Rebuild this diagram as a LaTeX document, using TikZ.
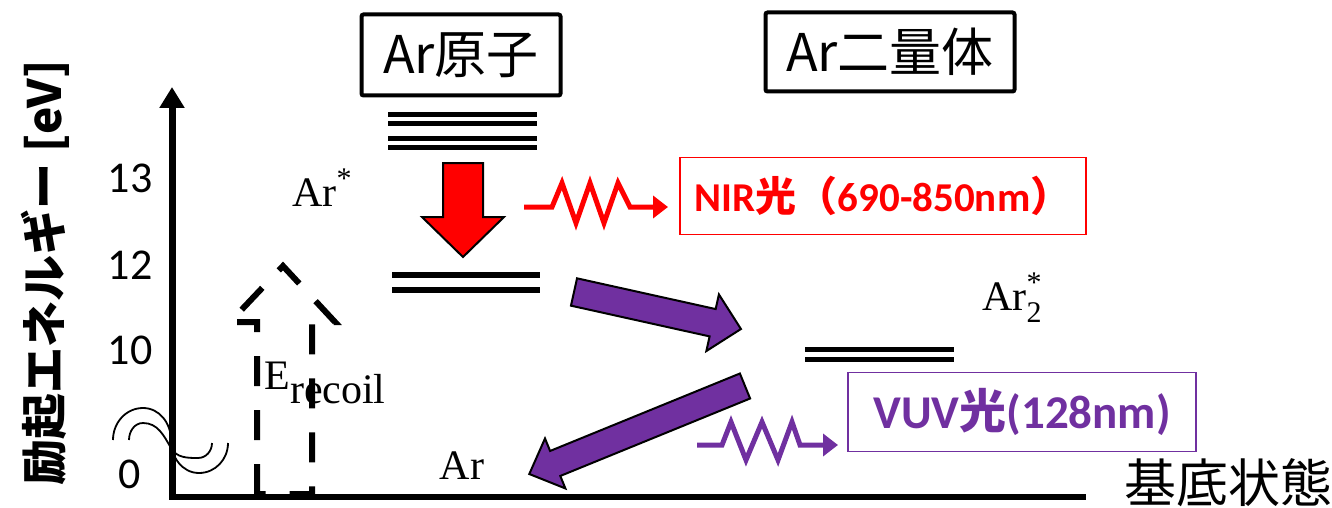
\documentclass[tikz,border=0pt]{standalone}
\usepackage{fontspec}
\newfontfamily\jpfont{Noto Sans CJK JP}
\newfontfamily\numfont{Carlito}
\newfontfamily\labelfont{Liberation Serif}
\usetikzlibrary{arrows.meta}

\definecolor{nirred}{RGB}{255,0,0}
\definecolor{vuvpurple}{RGB}{112,48,160}

\newcommand{\upstar}{{\fontsize{30}{30}\selectfont\raisebox{0.6em}{*}}}
\newcommand{\latin}[1]{{\numfont\bfseries #1}}

\tikzset{
  level/.style={line width=5pt},
  titlebox/.style={draw, line width=4pt, rounded corners=2pt, inner sep=0pt,
    font=\jpfont\fontsize{52}{56}\selectfont},
  lightbox/.style={draw, line width=1.5pt, inner sep=0pt},
  ticklabel/.style={font=\numfont\fontsize{44}{48}\selectfont},
  statelabel/.style={font=\labelfont\fontsize{42}{46}\selectfont},
  photon/.style={line width=5pt, -{Triangle[length=15pt,width=22pt]}},
  fatarrow/.style={draw=black, line width=2pt},
  recoil/.style={draw, line width=6pt, dash pattern=on 30pt off 24pt}
}

\begin{document}
\begin{tikzpicture}[x=1pt, y=-1pt]
  \useasboundingbox (0,0) rectangle (1332,508);

  % axes
  \coordinate (O) at (172,497);
  \coordinate (ytop) at (172,87);
  \coordinate (xend) at (1086,497);
  \draw[line width=7pt, -{Triangle[length=21pt,width=24pt]}] (O) -- (ytop);
  \draw[line width=6pt] (169,497) -- (xend);

  \node[font=\jpfont\bfseries\fontsize{46}{50}\selectfont, rotate=90] (ylabel) at (45,273) {励起エネルギー [eV]};
  \node[font=\jpfont\fontsize{52}{56}\selectfont] (xlabel) at (1228,483) {基底状態};

  \foreach \v/\y in {13/178,12/265,10/350,0/474}
    \node[ticklabel] (tick\v) at (130,\y) {\v};

  % axis break
  \draw[line width=1.8pt] (113,440) to[out=90,in=180] (143,408) to[out=0,in=90] (171,440)
    to[out=-90,in=180] (199,473) to[out=0,in=-90] (228,443);
  \draw[line width=1.8pt] (129,440) to[out=90,in=180] (143,423) to[out=0,in=120] (171,448)
    to[out=-60,in=180] (198,458) to[out=0,in=-90] (212,443);

  % titles
  \node[titlebox, minimum width=199pt, minimum height=81pt] (atombox) at (461,55) {Ar原子};
  \node[titlebox, minimum width=249pt, minimum height=79pt] (dimerbox) at (890,52) {Ar二量体};

  % levels
  \foreach \y in {115,124,138,147}
    \draw[level] (388,\y) -- (537,\y);
  \draw[level, line width=6pt] (392,275) -- (540,275);
  \draw[level, line width=6pt] (392,290) -- (540,290);
  \draw[level] (805,349) -- (954,349);
  \draw[level] (805,359) -- (954,359);

  \node[statelabel] (arstar) at (322,188) {Ar\upstar};
  \node[statelabel] (ardimer) at (1012,298) {Ar\rlap{\upstar}{\fontsize{30}{30}\selectfont\raisebox{-0.4em}{2}}};
  \node[statelabel] (arground) at (462,466) {Ar};
  \node[statelabel] (erecoil) at (325,383) {E\raisebox{-0.35em}{recoil}};

  % recoil energy
  \draw[recoil] (257,494) -- (257,322) -- (230,322) -- (283,266) -- (335,322)
    -- (312,322) -- (312,494) -- cycle;

  % transitions
  \draw[fatarrow, fill=nirred] (443,163) -- (483,163) -- (483,217) -- (504,217)
    -- (463,257) -- (422,217) -- (443,217) -- cycle;
  \begin{scope}[shift={(574,292)}, rotate=-12.5]
    \draw[fatarrow, fill=vuvpurple] (0,-14) -- (142,-14) -- (142,-29) -- (171,0)
      -- (142,29) -- (142,14) -- (0,14) -- cycle;
  \end{scope}
  \begin{scope}[shift={(745,386)}, rotate=202.2]
    \draw[fatarrow, fill=vuvpurple] (0,-13.5) -- (205,-13.5) -- (205,-27) -- (233,0)
      -- (205,27) -- (205,13.5) -- (0,13.5) -- cycle;
  \end{scope}

  % emitted light
  \node[lightbox, draw=nirred, text=nirred, minimum width=406pt, minimum height=77pt,
    font=\jpfont\bfseries\fontsize{41}{44}\selectfont] (nirbox) at (883,196)
    {\latin{NIR}光（\latin{690-850nm}）};
  \node[lightbox, draw=vuvpurple, text=vuvpurple, minimum width=348pt, minimum height=79pt,
    font=\jpfont\bfseries\fontsize{47}{50}\selectfont] (vuvbox) at (1022,412)
    {\latin{VUV}光\latin{(128nm)}};

  \coordinate (nirstart) at (524,207);
  \coordinate (nirend) at (668,207);
  \draw[photon, nirred] (nirstart) -- ++(28,0) -- ++(10,-24) -- ++(14,40) -- ++(14,-40)
    -- ++(14,40) -- ++(14,-40) -- ++(12,24) -- (nirend);

  \coordinate (vuvstart) at (697,445);
  \coordinate (vuvend) at (838,445);
  \draw[photon, vuvpurple] (vuvstart) -- ++(25,0) -- ++(9,-23) -- ++(15,38) -- ++(16,-38)
    -- ++(16,38) -- ++(14,-38) -- ++(8,23) -- (vuvend);
\end{tikzpicture}
\end{document}
